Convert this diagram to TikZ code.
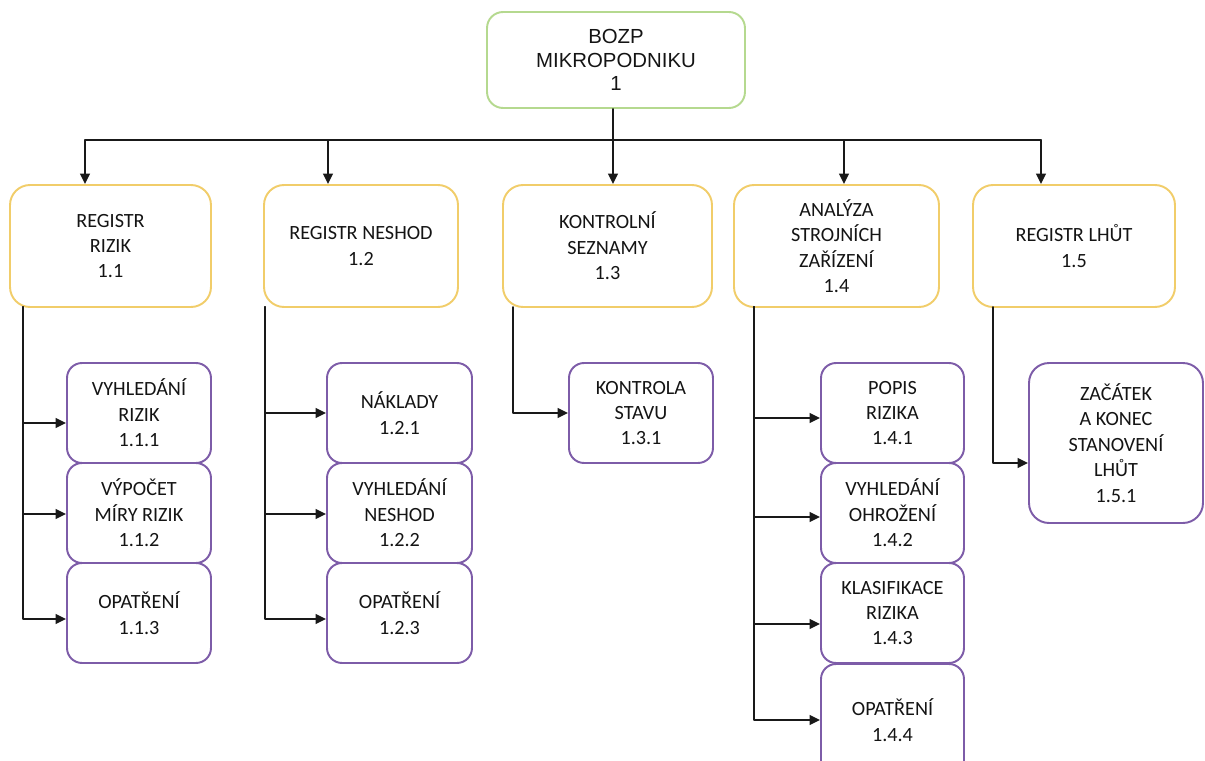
\documentclass[tikz,border=0pt]{standalone}
\usepackage{fontspec}
\setmainfont{Carlito}
\newfontfamily\arialfont{Liberation Sans}
\usetikzlibrary{arrows.meta,calc}
\definecolor{rootgreen}{HTML}{B5D98F}
\definecolor{lvlyellow}{HTML}{F1CD6A}
\definecolor{subpurple}{HTML}{7D5CA8}
\definecolor{txtgray}{HTML}{141414}
\begin{document}
\begin{tikzpicture}[x=0.02cm,y=-0.02cm,line cap=round,line join=round,
	rootbox/.style={draw=rootgreen,line width=1.1pt,rounded corners=0.32cm,align=center,inner sep=0pt,
		text=txtgray,font={\arialfont\fontsize{11.6}{13.4}\selectfont}},
	lvlbox/.style={draw=lvlyellow,line width=1.1pt,rounded corners=0.4cm,align=center,inner sep=0pt,
		minimum height=2.44cm,text=txtgray,font={\fontsize{11.5}{14.5}\selectfont}},
	subbox/.style={draw=subpurple,line width=1.1pt,rounded corners=0.3cm,align=center,inner sep=0pt,
		minimum height=2cm,text=txtgray,font={\fontsize{11.5}{14.5}\selectfont}},
	link/.style={draw=black!90,line width=1pt},
	arr/.style={link,-{Triangle[length=6pt,width=5.6pt]}}]
	\path[use as bounding box,clip] (0,0) rectangle (1205,761);
	% top level
	\node[rootbox,minimum width=5.16cm,minimum height=1.92cm] (root) at (616,60) {BOZP\\MIKROPODNIKU\\1};
	\node[lvlbox,minimum width=4.02cm] (r11) at (110.5,246) {REGISTR\\RIZIK\\1.1};
	\node[lvlbox,minimum width=3.88cm] (r12) at (361,246) {REGISTR NESHOD\\1.2};
	\node[lvlbox,minimum width=4.18cm] (r13) at (607.5,246) {KONTROLNÍ\\SEZNAMY\\1.3};
	\node[lvlbox,minimum width=4.1cm] (r14) at (836.5,246) {ANALÝZA\\STROJNÍCH\\ZAŘÍZENÍ\\1.4};
	\node[lvlbox,minimum width=4.04cm] (r15) at (1074,246) {REGISTR LHŮT\\1.5};
	% second level
	\node[subbox,minimum width=2.88cm] (n111) at (139,413) {VYHLEDÁNÍ\\RIZIK\\1.1.1};
	\node[subbox,minimum width=2.88cm] (n112) at (139,513) {VÝPOČET\\MÍRY RIZIK\\1.1.2};
	\node[subbox,minimum width=2.88cm] (n113) at (139,613) {OPATŘENÍ\\1.1.3};
	\node[subbox,minimum width=2.9cm] (n121) at (399.5,413) {NÁKLADY\\1.2.1};
	\node[subbox,minimum width=2.9cm] (n122) at (399.5,513) {VYHLEDÁNÍ\\NESHOD\\1.2.2};
	\node[subbox,minimum width=2.9cm] (n123) at (399.5,613) {OPATŘENÍ\\1.2.3};
	\node[subbox,minimum width=2.88cm] (n131) at (641,413) {KONTROLA\\STAVU\\1.3.1};
	\node[subbox,minimum width=2.86cm] (n141) at (892.5,413) {POPIS\\RIZIKA\\1.4.1};
	\node[subbox,minimum width=2.86cm] (n142) at (892.5,513) {VYHLEDÁNÍ\\OHROŽENÍ\\1.4.2};
	\node[subbox,minimum width=2.86cm] (n143) at (892.5,613) {KLASIFIKACE\\RIZIKA\\1.4.3};
	\node[subbox,minimum width=2.86cm,minimum height=2.24cm] (n144) at (892.5,720) {OPATŘENÍ\\1.4.4};
	\node[subbox,minimum width=3.48cm,minimum height=3.2cm,rounded corners=0.4cm] (n151) at (1116,443) {ZAČÁTEK\\A KONEC\\STANOVENÍ\\LHŮT\\1.5.1};
	% bus
	\coordinate (b11) at (85,140);
	\coordinate (b12) at (328,140);
	\coordinate (b13) at (613,140);
	\coordinate (b14) at (844,140);
	\coordinate (b15) at (1041,140);
	\draw[link] (b11) -- (b15);
	\draw[arr] (root.south -| b13) -- (b13 |- r13.north);
	\draw[arr] (b11) -- (b11 |- r11.north);
	\draw[arr] (b12) -- (b12 |- r12.north);
	\draw[arr] (b14) -- (b14 |- r14.north);
	\draw[arr] (b15) -- (b15 |- r15.north);
	% spines
	\coordinate (s1) at (23,307);
	\coordinate (s2) at (265,307);
	\coordinate (s3) at (513,307);
	\coordinate (s4) at (754,307);
	\coordinate (s5) at (993,307);
	\draw[arr] (s1) |- ($(n111.west)+(0,10)$);
	\draw[arr] (s1) |- ($(n112.west)+(0,1)$);
	\draw[arr] (s1) |- ($(n113.west)+(0,6)$);
	\draw[arr] (s2) |- (n121.west);
	\draw[arr] (s2) |- ($(n122.west)+(0,1)$);
	\draw[arr] (s2) |- ($(n123.west)+(0,6)$);
	\draw[arr] (s3) |- (n131.west);
	\draw[arr] (s4) |- ($(n141.west)+(0,5)$);
	\draw[arr] (s4) |- ($(n142.west)+(0,4)$);
	\draw[arr] (s4) |- ($(n143.west)+(0,11)$);
	\draw[arr] (s4) |- (n144.west);
	\draw[arr] (s5) |- ($(n151.west)+(0,20)$);
\end{tikzpicture}
\end{document}
